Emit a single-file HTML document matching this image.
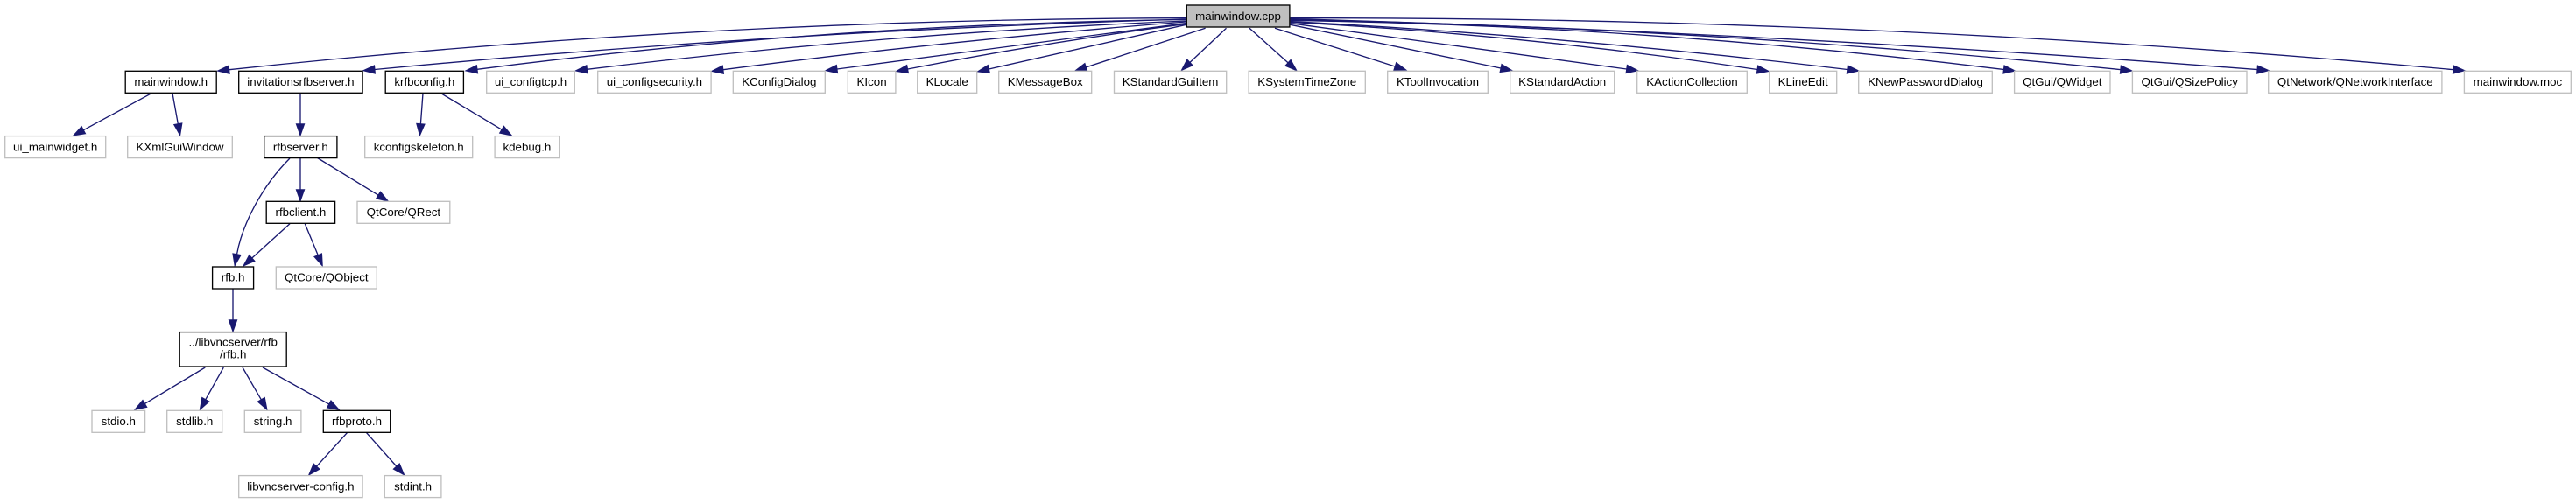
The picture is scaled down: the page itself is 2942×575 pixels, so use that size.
<!DOCTYPE html>
<html><head><meta charset="utf-8"><title>mainwindow.cpp include graph</title>
<style>
html,body{margin:0;padding:0;background:#fff}
svg{display:block}
.k{fill:#fff;stroke:#000;stroke-width:1.33}
.g{fill:#fff;stroke:#bfbfbf;stroke-width:1.33}
.t{fill:#bfbfbf;stroke:#000;stroke-width:1.33}
path{fill:none;stroke:#191970;stroke-width:1.33;marker-end:url(#a)}
text{font-family:"Liberation Sans",sans-serif;font-size:13.33px;fill:#000;text-anchor:middle}
</style></head><body>
<svg width="2942" height="575" viewBox="0 0 2942 575" xmlns="http://www.w3.org/2000/svg">
<defs><marker id="a" markerUnits="userSpaceOnUse" markerWidth="16" markerHeight="12" refX="0" refY="6" orient="auto" overflow="visible"><polygon points="0,1.33 13.3,6 0,10.67" fill="#191970" stroke="#191970" stroke-width="1"/></marker></defs>

<!-- edges from root, left -->
<path d="M1354.6,20.7Q808,21.8 261.7,79.7"/>
<path d="M1354.6,22Q891,35.7 428,79.5"/>
<path d="M1354.6,22.5Q950,27.3 545,79.3"/>
<path d="M1354.6,24Q1013,38 670.5,79.3"/>
<path d="M1354.6,25Q1090,45.4 825.9,79.7"/>
<path d="M1354.6,26.5Q1155,52.8 956,79"/>
<path d="M1354.6,27.5Q1196,48 1036.6,79"/>
<path d="M1354.7,28.3L1129.4,79"/>
<path d="M1376.6,32.3L1240.4,76.9"/>
<path d="M1400.5,32.3L1359,71.4"/>
<path d="M1427,32.3L1471,71.8"/>
<!-- edges from root, right -->
<path d="M1456,32.3L1593.2,76"/>
<path d="M1473.6,28.3L1714,78"/>
<path d="M1473.6,26.7L1857.7,79"/>
<path d="M1473.6,25.5Q1740,39.4 2007,79.5"/>
<path d="M1473.6,24.5Q1791,41.4 2109.8,79.5"/>
<path d="M1473.6,23.5Q1880,29.2 2288.4,79.5"/>
<path d="M1473.6,22.5Q1947,31.6 2421.8,79.6"/>
<path d="M1473.6,21.5Q2025,37.2 2578,79.6"/>
<path d="M1473.6,20.7Q2137,19.4 2801.8,79.6"/>
<!-- second level -->
<path d="M173,106.7L95.4,148.7"/>
<path d="M197,106.7L203.3,141.7"/>
<path d="M343,106.7L343,141.7"/>
<path d="M483,106.7L480.4,141.7"/>
<path d="M503.6,106.7L573,148.2"/>
<!-- third level -->
<path d="M331,181C300,212 277,255 270.5,290.7"/>
<path d="M343,181L343,216.7"/>
<path d="M361.7,180L432,223.1"/>
<path d="M331,255.7L287.8,295"/>
<path d="M348.3,255.7L363.2,291.7"/>
<path d="M266,330.5L266,365.7"/>
<path d="M234.3,420L165.4,461.4"/>
<path d="M255.3,420L234.8,456.7"/>
<path d="M277,420L298.3,456.8"/>
<path d="M300,420L375.7,461.9"/>
<path d="M396.7,494.3L361.6,533.1"/>
<path d="M418.3,494.3L452.8,533"/>

<!-- nodes -->
<rect class="t" x="1355.3" y="6" width="117.6" height="25"/><text x="1414" y="23">mainwindow.cpp</text>

<rect class="k" x="143.2" y="81.3" width="104" height="25"/><text x="195.2" y="98">mainwindow.h</text>
<rect class="k" x="272.7" y="81.3" width="141.4" height="25"/><text x="343.4" y="98">invitationsrfbserver.h</text>
<rect class="k" x="440.2" y="81.3" width="89.2" height="25"/><text x="484.8" y="98">krfbconfig.h</text>
<rect class="g" x="555.7" y="81.3" width="100.6" height="25"/><text x="606" y="98">ui_configtcp.h</text>
<rect class="g" x="682.7" y="81.3" width="129.4" height="25"/><text x="747.4" y="98">ui_configsecurity.h</text>
<rect class="g" x="837.3" y="81.3" width="105" height="25"/><text x="889.8" y="98">KConfigDialog</text>
<rect class="g" x="968.3" y="81.3" width="54.6" height="25"/><text x="995.6" y="98">KIcon</text>
<rect class="g" x="1047.7" y="81.3" width="68" height="25"/><text x="1081.7" y="98">KLocale</text>
<rect class="g" x="1140.7" y="81.3" width="106" height="25"/><text x="1193.7" y="98">KMessageBox</text>
<rect class="g" x="1272.5" y="81.3" width="128.2" height="25"/><text x="1336.6" y="98">KStandardGuiItem</text>
<rect class="g" x="1426.1" y="81.3" width="133.2" height="25"/><text x="1492.7" y="98">KSystemTimeZone</text>
<rect class="g" x="1584.7" y="81.3" width="114.6" height="25"/><text x="1642" y="98">KToolInvocation</text>
<rect class="g" x="1724.7" y="81.3" width="119" height="25"/><text x="1784.2" y="98">KStandardAction</text>
<rect class="g" x="1869.7" y="81.3" width="125.6" height="25"/><text x="1932.5" y="98">KActionCollection</text>
<rect class="g" x="2020.7" y="81.3" width="77" height="25"/><text x="2059.2" y="98">KLineEdit</text>
<rect class="g" x="2122.7" y="81.3" width="152.6" height="25"/><text x="2199" y="98">KNewPasswordDialog</text>
<rect class="g" x="2300.6" y="81.3" width="109.4" height="25"/><text x="2355.3" y="98">QtGui/QWidget</text>
<rect class="g" x="2435.4" y="81.3" width="130.6" height="25"/><text x="2500.7" y="98">QtGui/QSizePolicy</text>
<rect class="g" x="2590.7" y="81.3" width="198.2" height="25"/><text x="2689.8" y="98">QtNetwork/QNetworkInterface</text>
<rect class="g" x="2814.4" y="81.3" width="121.9" height="25"/><text x="2875.4" y="98">mainwindow.moc</text>

<rect class="g" x="5.7" y="155.6" width="115" height="25"/><text x="63.2" y="172.3">ui_mainwidget.h</text>
<rect class="g" x="145.7" y="155.6" width="119.6" height="25"/><text x="205.5" y="172.3">KXmlGuiWindow</text>
<rect class="k" x="301.7" y="155.6" width="83.2" height="25"/><text x="343.3" y="172.3">rfbserver.h</text>
<rect class="g" x="416.7" y="155.6" width="123" height="25"/><text x="478.2" y="172.3">kconfigskeleton.h</text>
<rect class="g" x="565.1" y="155.6" width="73.6" height="25"/><text x="601.9" y="172.3">kdebug.h</text>

<rect class="k" x="304.2" y="230.3" width="78.4" height="25"/><text x="343.4" y="247">rfbclient.h</text>
<rect class="g" x="408" y="230.3" width="105.8" height="25"/><text x="460.9" y="247">QtCore/QRect</text>

<rect class="k" x="242.6" y="305" width="47" height="25"/><text x="266.1" y="321.7">rfb.h</text>
<rect class="g" x="315.3" y="305" width="115" height="25"/><text x="372.8" y="321.7">QtCore/QObject</text>

<rect class="k" x="205.2" y="379.6" width="122" height="39.4"/><text x="266.2" y="395.3">../libvncserver/rfb</text><text x="266.2" y="409.6">/rfb.h</text>

<rect class="g" x="105" y="469.3" width="60.6" height="25"/><text x="135.3" y="486">stdio.h</text>
<rect class="g" x="190.7" y="469.3" width="63" height="25"/><text x="222.2" y="486">stdlib.h</text>
<rect class="g" x="279.3" y="469.3" width="64.6" height="25"/><text x="311.6" y="486">string.h</text>
<rect class="k" x="369.3" y="469.3" width="76.4" height="25"/><text x="407.5" y="486">rfbproto.h</text>

<rect class="g" x="272.7" y="543.6" width="141.4" height="25"/><text x="343.4" y="560.3">libvncserver-config.h</text>
<rect class="g" x="439.3" y="543.6" width="64.6" height="25"/><text x="471.6" y="560.3">stdint.h</text>
</svg>
</body></html>
